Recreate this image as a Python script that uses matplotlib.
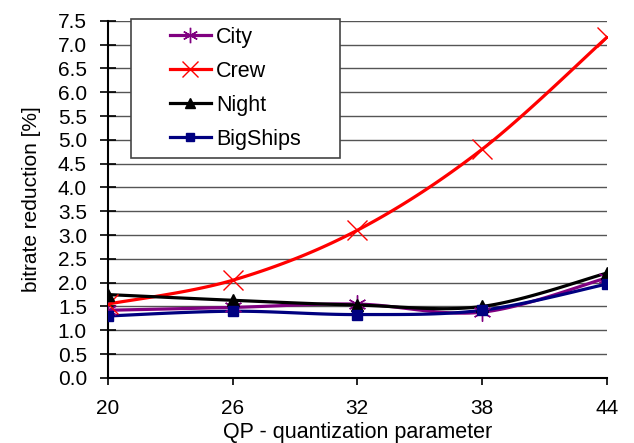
import matplotlib
matplotlib.use('Agg')
import matplotlib.pyplot as plt
import numpy as np

plt.rcParams['font.family'] = ['Liberation Sans', 'DejaVu Sans']

# data
qp = [20, 26, 32, 38, 44]
city = [1.42, 1.48, 1.55, 1.38, 2.1]
crew = [1.55, 2.05, 3.1, 4.8, 7.15]
night = [1.75, 1.63, 1.53, 1.5, 2.2]
bigships = [1.3, 1.4, 1.33, 1.42, 1.97]
yticks = np.arange(0, 7.51, 0.5)


def smooth(x, y, n=30):
    """Excel-style smoothed line (Catmull-Rom bezier)"""
    x = np.asarray(x, float)
    y = np.asarray(y, float)
    xs, ys = [], []
    for i in range(len(x) - 1):
        p0 = (x[max(i - 1, 0)], y[max(i - 1, 0)])
        p1 = (x[i], y[i])
        p2 = (x[i + 1], y[i + 1])
        p3 = (x[min(i + 2, len(x) - 1)], y[min(i + 2, len(x) - 1)])
        c1 = (p1[0] + (p2[0] - p0[0]) / 6, p1[1] + (p2[1] - p0[1]) / 6)
        c2 = (p2[0] - (p3[0] - p1[0]) / 6, p2[1] - (p3[1] - p1[1]) / 6)
        t = np.linspace(0, 1, n)
        for k in range(2):
            pts = [p1[k], c1[k], c2[k], p2[k]]
            v = ((1 - t) ** 3 * pts[0] + 3 * (1 - t) ** 2 * t * pts[1]
                 + 3 * (1 - t) * t ** 2 * pts[2] + t ** 3 * pts[3])
            (xs if k == 0 else ys).extend(v)
    return xs, ys


fig = plt.figure(figsize=(6.34, 4.43), dpi=100)
ax = fig.add_axes([0.170, 0.147, 0.787, 0.806])

series = [
    ('City', city, '#800080', (6, 2, 0), 13),
    ('Crew', crew, '#FF0000', 'x', 14),
    ('Night', night, '#000000', '^', 9),
    ('BigShips', bigships, '#000080', 's', 7.5),
]
for name, vals, color, mk, ms in series:
    sx, sy = smooth(qp, vals)
    ax.plot(sx, sy, color=color, lw=2.3, zorder=3)
    ax.plot(qp, vals, linestyle='none', marker=mk, markersize=ms,
            color=color, markeredgewidth=1.0, zorder=4)
    ax.plot([], [], color=color, lw=2.3, marker=mk, markersize=ms * 0.85,
            markeredgewidth=1.0, label=name)

ax.set_xlim(20, 44)
ax.set_ylim(0, 7.5)
ax.set_xticks(qp)
ax.set_yticks(yticks)
ax.set_yticklabels(['%.1f' % v for v in yticks])
ax.yaxis.grid(True, color='#555555', lw=1.0)
ax.set_axisbelow(True)
for s in ['top', 'right']:
    ax.spines[s].set_visible(False)
for s in ['left', 'bottom']:
    ax.spines[s].set_linewidth(1.5)
ax.tick_params(axis='y', direction='inout', length=12, width=1.2,
               labelsize=15, pad=9)
ax.tick_params(axis='x', direction='out', length=5, width=1.2,
               labelsize=15, pad=10)
ax.set_ylabel('bitrate reduction [%]', fontsize=15, labelpad=12)
ax.set_xlabel('QP - quantization parameter', fontsize=15.5, labelpad=3)

leg = ax.legend(loc='upper left', bbox_to_anchor=(0.046, 1.005), fontsize=15.5,
                frameon=True, fancybox=False, edgecolor='#444444',
                borderpad=0.37, labelspacing=0.6, handlelength=1.9,
                handletextpad=0.25, borderaxespad=0)
leg.get_frame().set_linewidth(1.2)
leg.get_frame().set_alpha(1)
# widen the box to the right like the reference
leg._legend_box.set_width(193)

fig.savefig('out.png', dpi=100, facecolor='white')
